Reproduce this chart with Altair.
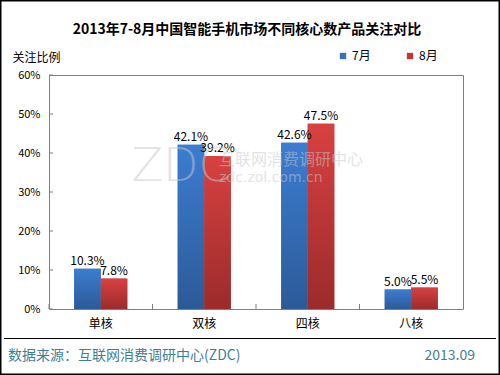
import altair as alt
import pandas as pd

categories = ["单核", "双核", "四核", "八核"]
series = ["7月", "8月"]
jul_values = [10.3, 42.1, 42.6, 5.0]
aug_values = [7.8, 39.2, 47.5, 5.5]
y_ticks = [0, 10, 20, 30, 40, 50, 60]

title_text = "2013年7-8月中国智能手机市场不同核心数产品关注对比"
source_text = "数据来源：互联网消费调研中心(ZDC)"
date_text = "2013.09"

FONT = "Noto Sans CJK SC"

rows = []
for c, v in zip(categories, jul_values):
    rows.append({"cat": c, "series": "7月", "value": v, "label": f"{v:.1f}%"})
for c, v in zip(categories, aug_values):
    rows.append({"cat": c, "series": "8月", "value": v, "label": f"{v:.1f}%"})
df = pd.DataFrame(rows)

one = alt.Data(values=[{"k": 1}])

x_axis = alt.Axis(title=None, domain=False, ticks=False, labelAngle=0,
                  labelPadding=9, labelFontSize=12, labelColor="#000000", labelFont=FONT)
y_axis = alt.Axis(values=y_ticks, tickCount=7, labelExpr="datum.value + '%'", grid=False,
                  labelOverlap=False, labelBound=False,
                  domain=False, ticks=False, labelPadding=9, labelFontSize=11,
                  labelColor="#000000", labelFont=FONT,
                  title="关注比例", titleAngle=0, titleAlign="left",
                  titleBaseline="middle", titleX=-37, titleY=-18,
                  titleFontSize=12, titleFontWeight="normal", titleFont=FONT,
                  titleColor="#000000")
x_scale = alt.Scale(domain=categories, paddingInner=0, paddingOuter=0)
y_scale = alt.Scale(domain=[0, 60], nice=False)

xs = alt.X("cat:N", sort=categories, scale=x_scale, axis=x_axis)
xo = alt.XOffset("series:N", scale=alt.Scale(domain=series, paddingOuter=0.95, paddingInner=0))
ys = alt.Y("value:Q", scale=y_scale, axis=y_axis)

base = alt.Chart(df)

legend_bars = base.mark_bar().encode(
    x=xs, xOffset=xo, y=ys,
    color=alt.Color("series:N", scale=alt.Scale(domain=series, range=["#3572c0", "#c23636"]),
                    legend=alt.Legend(title=None, orient="none", legendX=288, legendY=-25,
                                      direction="horizontal", symbolType="square",
                                      symbolSize=40, labelFontSize=12, labelFont=FONT,
                                      labelOffset=3, columnPadding=33, symbolStrokeWidth=0)),
)

def grad(top, bottom):
    return alt.Gradient(gradient="linear",
                        stops=[alt.GradientStop(color=top, offset=0),
                               alt.GradientStop(color=bottom, offset=1)],
                        x1=0, x2=0, y1=0, y2=1)

blue_bars = base.transform_filter(alt.datum.series == "7月").mark_bar(
    color=grad("#3b7dd1", "#2c5a98")).encode(x=xs, xOffset=xo, y=ys)
red_bars = base.transform_filter(alt.datum.series == "8月").mark_bar(
    color=grad("#d84141", "#9c2b2b")).encode(x=xs, xOffset=xo, y=ys)

labels = base.mark_text(baseline="bottom", dy=-1, fontSize=12, font=FONT, color="#000000").encode(
    x=xs, xOffset=xo, y=ys, text="label:N")

ytick_df = pd.DataFrame({"value": y_ticks})
ytick_rules = alt.Chart(ytick_df).mark_rule(color="#808080").encode(
    y=ys, x=alt.value(0), x2=alt.value(4))

xtick_df = pd.DataFrame({"cat": categories})
xtick_rules = alt.Chart(xtick_df).mark_rule(color="#808080").encode(
    x=alt.X("cat:N", sort=categories, scale=x_scale, axis=x_axis, bandPosition=0),
    y=alt.value(234), y2=alt.value(229))

title = alt.Chart(one).mark_text(text=title_text, fontSize=14, fontWeight="bold", font=FONT,
                                 color="#000000").encode(x=alt.value(198), y=alt.value(-45))

wm1 = alt.Chart(one).mark_text(text="ZDC", fontSize=46, font="DejaVu Sans", fontWeight=200,
                               color="#c8c8c8", opacity=0.5).encode(x=alt.value(132), y=alt.value(92))
wm2 = alt.Chart(one).mark_text(text="互联网消费调研中心", fontSize=16, font=FONT, align="left",
                               color="#c8c8c8", opacity=0.5).encode(x=alt.value(170), y=alt.value(85))
wm3 = alt.Chart(one).mark_text(text="zdc.zol.com.cn", fontSize=14, font="DejaVu Sans", align="left",
                               color="#c8c8c8", opacity=0.5).encode(x=alt.value(170), y=alt.value(103))

sep = alt.Chart(one).mark_rule(color="#000000", strokeWidth=1).encode(
    x=alt.value(-45), x2=alt.value(447), y=alt.value(263.5), y2=alt.value(263.5))

src = alt.Chart(one).mark_text(text=source_text, fontSize=14, font=FONT, align="left",
                               color="#3f7f93").encode(x=alt.value(-41), y=alt.value(281))
date = alt.Chart(one).mark_text(text=date_text, fontSize=14, font=FONT, align="right",
                                color="#3f7f93").encode(x=alt.value(426), y=alt.value(281))

frame = alt.Chart(one).mark_rect(fill=None, stroke="#000000", strokeWidth=1.5).encode(
    x=alt.value(-48.25), y=alt.value(-74.25), x2=alt.value(450.25), y2=alt.value(299.25))

chart = alt.layer(
    legend_bars, blue_bars, red_bars, ytick_rules, xtick_rules, labels,
    wm1, wm2, wm3, title, sep, src, date, frame
).properties(
    width=414, height=234,
    padding={"left": 49, "top": 75, "right": 37, "bottom": 66},
    autosize=alt.AutoSizeParams(type="none"),
    background="#ffffff",
).configure_view(stroke="#808080", strokeWidth=1)

chart.save("out.html", embed_options={"renderer": "svg", "actions": False})
